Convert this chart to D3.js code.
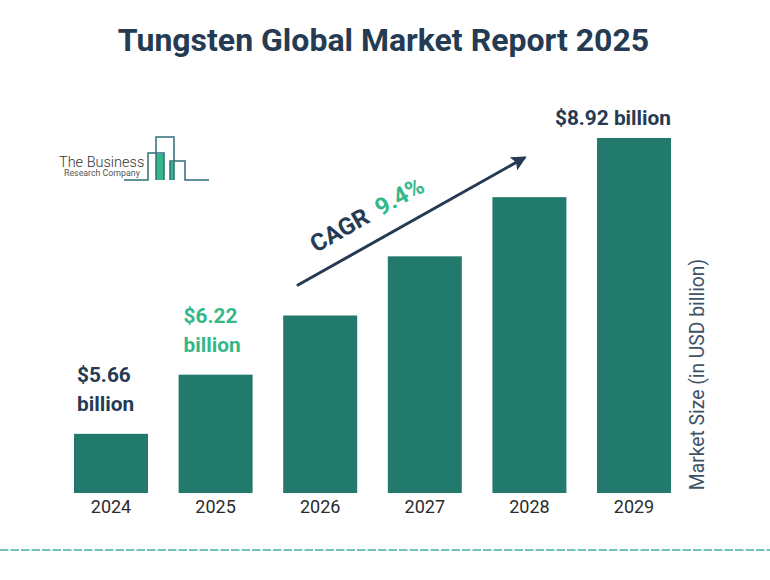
<!DOCTYPE html>
<html>
<head>
<meta charset="utf-8">
<script src="https://cdn.jsdelivr.net/npm/d3@7"></script>
<style>
html, body { margin: 0; padding: 0; background: #fff; }
svg { display: block; }
text { font-family: Roboto, sans-serif; }
</style>
</head>
<body>
<svg id="chart"></svg>
<script>
const years = ["2024", "2025", "2026", "2027", "2028", "2029"]
// the bars in the picture rise in equal steps, they are not to scale with the labels
const barLevels = [1, 2, 3, 4, 5, 6]
const valueLabels = [["$5.66", "billion"], ["$6.22", "billion"], [], [], [], ["$8.92 billion"]]
const labelColors = ["#243b53", "#35b888", null, null, null, "#243b53"]

const width = 770
const height = 580
const dark = "#243b53"
const barColor = "#217a6b"
const green = "#35b888"

const svg = d3.select("#chart").attr("width", width).attr("height", height)

const X = d3.scaleBand().domain(years).range([74, 671]).paddingInner(0.2925).paddingOuter(0)
const Y = d3.scaleLinear().domain([0, 6]).range([493, 138])

// Title
svg.append("text")
   .attr("x", 383.5)
   .attr("y", 51)
   .attr("text-anchor", "middle")
   .attr("font-size", 32)
   .attr("font-weight", 700)
   .attr("fill", dark)
   .text("Tungsten Global Market Report 2025")

// Bars
svg.selectAll("rect.bar")
   .data(years)
   .enter()
   .append("rect")
   .attr("class", "bar")
   .attr("x", d => X(d))
   .attr("y", (d, i) => Y(barLevels[i]))
   .attr("width", X.bandwidth())
   .attr("height", (d, i) => Y(0) - Y(barLevels[i]))
   .attr("fill", barColor)

// Year labels
const xaxis = d3.axisBottom(X).tickSize(0).tickPadding(7)
const xg = svg.append("g")
   .attr("transform", "translate(0,493)")
   .call(xaxis)
xg.select(".domain").remove()
xg.selectAll("text")
  .attr("font-family", "Roboto, sans-serif")
  .attr("font-size", 18)
  .attr("fill", "#2b2b2b")

// Value labels above the bars: two line ones sit left aligned, the long one ends at the bar edge
years.forEach((year, i) => {
    const lines = valueLabels[i].length
    valueLabels[i].forEach((line, k) => {
        svg.append("text")
           .attr("x", lines == 2 ? X(year) + 3 + i * 2 : X(year) + X.bandwidth())
           .attr("y", Y(barLevels[i]) - (lines == 2 ? 23 : 13) - (lines - 1 - k) * 28.5)
           .attr("text-anchor", lines == 2 ? "start" : "end")
           .attr("font-size", 20.8)
           .attr("font-weight", 700)
           .attr("fill", labelColors[i])
           .text(line)
    })
})

// Axis title
svg.append("text")
   .attr("transform", "translate(704,374.5) rotate(-90)")
   .attr("text-anchor", "middle")
   .attr("font-size", 19.3)
   .attr("fill", "#3d5266")
   .text("Market Size (in USD billion)")

// CAGR arrow
svg.append("defs").append("marker")
   .attr("id", "arrow-head")
   .attr("viewBox", "0 0 10 10")
   .attr("refX", 8)
   .attr("refY", 5)
   .attr("markerWidth", 5)
   .attr("markerHeight", 5)
   .attr("orient", "auto")
   .append("path")
   .attr("d", "M0,0 L10,5 L0,10 L2,5 Z")
   .attr("fill", dark)

svg.append("line")
   .attr("x1", 298)
   .attr("y1", 285)
   .attr("x2", 524)
   .attr("y2", 158)
   .attr("stroke", dark)
   .attr("stroke-width", 3)
   .attr("stroke-linecap", "round")
   .attr("marker-end", "url(#arrow-head)")

const cagr = svg.append("text")
   .attr("transform", "translate(316,253) rotate(-29.5)")
   .attr("font-size", 24)
   .attr("font-weight", 700)
cagr.append("tspan").attr("fill", dark).text("CAGR")
cagr.append("tspan").attr("dx", 11).attr("fill", green).text("9.4%")

// Logo
const logo = svg.append("g")
logo.append("rect").attr("x", 156).attr("y", 154).attr("width", 8).attr("height", 26).attr("fill", green)
logo.append("rect").attr("x", 170).attr("y", 162).attr("width", 4).attr("height", 18).attr("fill", green)
logo.append("path")
    .attr("d", "M124,180 H148 V153 H164 V180 M156,180 V153 M156,153 V137 H174 V180 M170,180 V161 H185 V180 H209")
    .attr("fill", "none")
    .attr("stroke", "#2f6f78")
    .attr("stroke-width", 1.5)
logo.append("text")
    .attr("x", 59)
    .attr("y", 167)
    .attr("font-size", 14.5)
    .attr("font-weight", 300)
    .attr("fill", "#333")
    .text("The Business")
logo.append("text")
    .attr("x", 64)
    .attr("y", 176)
    .attr("font-size", 8.8)
    .attr("fill", "#555")
    .text("Research Company")

// Dashed rule at the bottom
svg.append("line")
   .attr("x1", 0)
   .attr("y1", 550)
   .attr("x2", width)
   .attr("y2", 550)
   .attr("stroke", "#72c4b8")
   .attr("stroke-width", 2)
   .attr("stroke-dasharray", "8.5 2")
</script>
</body>
</html>
